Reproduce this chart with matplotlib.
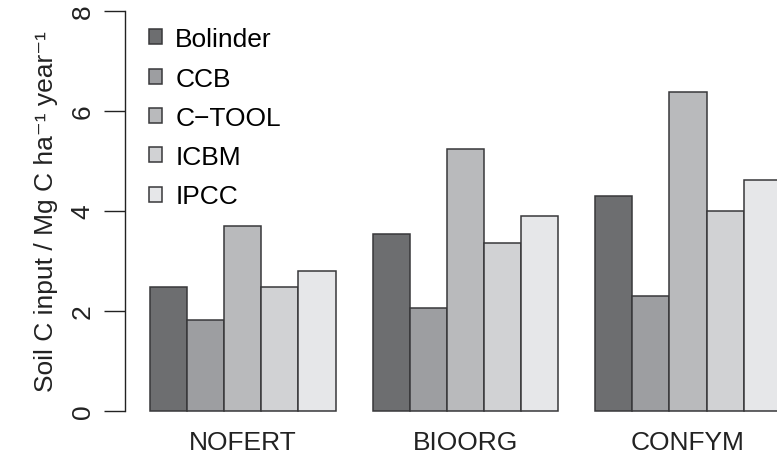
import numpy as np
import matplotlib
matplotlib.use("Agg")
import matplotlib.pyplot as plt
from matplotlib.patches import Patch

plt.rcParams["font.family"] = ["Liberation Sans", "DejaVu Sans"]

treatments = ["NOFERT", "BIOORG", "CONFYM"]
models = ["Bolinder", "CCB", "C\u2212TOOL", "ICBM", "IPCC"]
bolinder = [2.49, 3.54, 4.30]
ccb = [1.83, 2.07, 2.31]
ctool = [3.70, 5.24, 6.39]
icbm = [2.49, 3.37, 4.01]
ipcc = [2.81, 3.90, 4.63]
colors = ["#6d6e70", "#9d9ea1", "#b9babc", "#d1d2d4", "#e6e7e9"]

W, H, DPI = 777, 456, 100
fig = plt.figure(figsize=(W / DPI, H / DPI), dpi=DPI)

# axes placed in pixels: y-axis line at x=125, data y 0..8 spans 412..12 px
ymin, ymax = -0.32, 8.32
px_per_unit = 50.0
bottom_px = (H - 412) + ymin * px_per_unit
height_px = (ymax - ymin) * px_per_unit
left_px = 125.3
ax = fig.add_axes([left_px / W, bottom_px / H, 1 - left_px / W, height_px / H])

# barplot layout: bars of width 1, one unit gap between groups
series = [bolinder, ccb, ctool, icbm, ipcc]
n_models = len(series)
group_starts = 1 + np.arange(len(treatments)) * (n_models + 1)
for i, (vals, col) in enumerate(zip(series, colors)):
    ax.bar(group_starts + i, vals, width=1.0, align="edge", color=col,
           edgecolor="#38383a", linewidth=1.1, zorder=2)

x_unit_px = 37.1
xleft = 1 - (150 - left_px) / x_unit_px
xright = xleft + (W - left_px) / x_unit_px
ax.set_xlim(xleft, xright)
ax.set_ylim(ymin, ymax)

for side in ["top", "right", "bottom"]:
    ax.spines[side].set_visible(False)
ax.spines["left"].set_bounds(0, 8)
ax.spines["left"].set_linewidth(1.0)
ax.spines["left"].set_color("#222222")

ax.set_yticks([0, 2, 4, 6, 8])
ax.set_yticklabels(["0", "2", "4", "6", "8"], rotation=90, va="center",
                   fontsize=19, color="#222222")
ax.tick_params(axis="y", length=15, width=1.0, color="#222222", pad=7)
ax.set_xticks(group_starts + n_models / 2)
ax.set_xticklabels(treatments, fontsize=19, color="#222222")
ax.tick_params(axis="x", length=0, pad=2)

ax.set_ylabel("Soil C input / Mg C ha\u207b\u00b9 year\u207b\u00b9", fontsize=19,
              color="#222222", labelpad=9)

handles = [Patch(facecolor=c, edgecolor="#38383a", linewidth=1.1) for c in colors]
ax.legend(handles, models, loc="upper left", bbox_to_anchor=(0.012, 0.962),
          frameon=False, fontsize=19, handlelength=0.5, handleheight=0.5,
          handletextpad=0.5, labelspacing=0.58, borderaxespad=0.2)

fig.savefig("out.png", dpi=DPI, facecolor="white")
